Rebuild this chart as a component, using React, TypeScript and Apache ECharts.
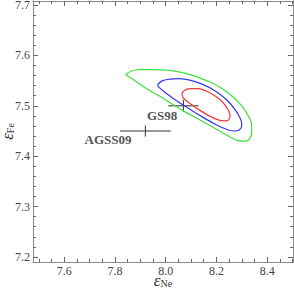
import React, { useEffect, useRef } from "react";
import * as echarts from "echarts";

// Axis ranges and ticks
const xRange = [7.477, 8.502];
const yRange = [7.19, 7.708];
const xMajorTicks = [7.6, 7.8, 8.0, 8.2, 8.4];
const xMinorTicks = [7.5, 7.55, 7.65, 7.7, 7.75, 7.85, 7.9, 7.95, 8.05, 8.1, 8.15, 8.25, 8.3, 8.35, 8.45, 8.5];
const yMajorTicks = [7.2, 7.3, 7.4, 7.5, 7.6, 7.7];
const yMinorTicks = [
  7.22, 7.24, 7.26, 7.28, 7.32, 7.34, 7.36, 7.38, 7.42, 7.44, 7.46, 7.48,
  7.52, 7.54, 7.56, 7.58, 7.62, 7.64, 7.66, 7.68,
];

// Contours
const greenContour = [
  [7.842, 7.562], [7.866, 7.569], [7.898, 7.572], [7.951, 7.572], [8.004, 7.571],
  [8.056, 7.567], [8.109, 7.56], [8.161, 7.55], [8.214, 7.537], [8.26, 7.52],
  [8.3, 7.5], [8.326, 7.48], [8.339, 7.462], [8.339, 7.446], [8.33, 7.434],
  [8.313, 7.43], [8.286, 7.431], [8.24, 7.442], [8.188, 7.457], [8.135, 7.472],
  [8.083, 7.486], [8.03, 7.502], [7.977, 7.519], [7.925, 7.534], [7.872, 7.552],
  [7.842, 7.562],
];
const blueContour = [
  [7.968, 7.541], [7.984, 7.549], [8.017, 7.553], [8.056, 7.554], [8.102, 7.55],
  [8.148, 7.542], [8.194, 7.53], [8.238, 7.513], [8.273, 7.493], [8.296, 7.473],
  [8.3, 7.46], [8.29, 7.452], [8.273, 7.45], [8.247, 7.452], [8.201, 7.462],
  [8.148, 7.477], [8.096, 7.493], [8.043, 7.51], [7.997, 7.527], [7.975, 7.536],
  [7.968, 7.541],
];
const redContour = [
  [8.064, 7.523], [8.072, 7.53], [8.096, 7.534], [8.129, 7.534], [8.161, 7.529],
  [8.194, 7.52], [8.225, 7.507], [8.247, 7.491], [8.254, 7.48], [8.248, 7.472],
  [8.234, 7.47], [8.207, 7.472], [8.168, 7.481], [8.129, 7.493], [8.089, 7.507],
  [8.069, 7.516], [8.064, 7.523],
];

// Reference points: [x, y, xErr, yErr]
const refNames = ["GS98", "AGSS09"];
const refPoints = [
  [8.07, 7.5, 0.06, 0.012],
  [7.92, 7.45, 0.1, 0.011],
];
const refLabelPos = [
  [7.986, 7.481],
  [7.773, 7.434],
];

const serif = "Liberation Serif";
const tickColor = "#444";
const frameColor = "#8a8a8a";

export default function App() {
  const ref = useRef<HTMLDivElement>(null);
  useEffect(() => {
    document.body.style.margin = "0";
    const chart = echarts.init(ref.current!, null, { renderer: "svg" });
    const gridBox = { left: 33, right: 1, top: 1, bottom: 30, containLabel: false, outerBoundsMode: "none" };
    const baseX = (grid: number, pos: string, show: boolean, ticks: number[], len: number) => ({
      type: "value",
      gridIndex: grid,
      position: pos,
      min: xRange[0],
      max: xRange[1],
      axisLine: { show: true, lineStyle: { color: frameColor, width: 1 } },
      axisTick: { show: true, inside: true, length: len, customValues: ticks, lineStyle: { color: "#666" } },
      axisLabel: show
        ? { show: true, customValues: xMajorTicks, formatter: (v: number) => v.toFixed(1), color: tickColor, fontFamily: serif, fontSize: 12, margin: 3 }
        : { show: false },
      splitLine: { show: false },
    });
    const baseY = (grid: number, pos: string, show: boolean, ticks: number[], len: number) => ({
      type: "value",
      gridIndex: grid,
      position: pos,
      min: yRange[0],
      max: yRange[1],
      axisLine: { show: true, lineStyle: { color: frameColor, width: 1 } },
      axisTick: { show: true, inside: true, length: len, customValues: ticks, lineStyle: { color: "#666" } },
      axisLabel: show
        ? { show: true, customValues: yMajorTicks, formatter: (v: number) => v.toFixed(1), color: tickColor, fontFamily: serif, fontSize: 12, margin: 3 }
        : { show: false },
      splitLine: { show: false },
    });
    const nameRich = {
      e: { fontFamily: serif, fontStyle: "italic", fontSize: 17, color: "#333", lineHeight: 16, verticalAlign: "top" },
      s: { fontFamily: serif, fontSize: 10, color: "#333", lineHeight: 10, padding: [10, 0, 0, 0], verticalAlign: "bottom" },
    };
    const x0: any = baseX(0, "bottom", true, xMajorTicks, 5);
    x0.name = "{e|ε}{s|Ne}";
    x0.nameLocation = "middle";
    x0.nameGap = 10;
    x0.nameMoveOverlap = false;
    x0.nameTextStyle = { rich: nameRich };
    const y0: any = baseY(0, "left", true, yMajorTicks, 5);
    y0.name = "{e|ε}{s|Fe}";
    y0.nameLocation = "middle";
    y0.nameGap = 18;
    y0.nameRotate = 90;
    y0.nameMoveOverlap = false;
    y0.nameTextStyle = { rich: nameRich };
    const contourSeries = (data: number[][], color: string) => ({
      type: "line",
      data,
      smooth: 0.4,
      symbol: "none",
      xAxisIndex: 0,
      yAxisIndex: 0,
      lineStyle: { color, width: 1.2 },
      silent: true,
    });
    chart.setOption({
      animation: false,
      grid: [gridBox, gridBox],
      xAxis: [
        x0,
        baseX(0, "top", false, xMajorTicks, 5),
        baseX(1, "bottom", false, xMinorTicks, 3),
        baseX(1, "top", false, xMinorTicks, 3),
      ],
      yAxis: [
        y0,
        baseY(0, "right", false, yMajorTicks, 5),
        baseY(1, "left", false, yMinorTicks, 3),
        baseY(1, "right", false, yMinorTicks, 3),
      ],
      series: [
        contourSeries(greenContour, "#3fe03f"),
        contourSeries(blueContour, "#3636f0"),
        contourSeries(redContour, "#f03a3a"),
        {
          type: "custom",
          xAxisIndex: 0,
          yAxisIndex: 0,
          data: refPoints,
          renderItem: (params: any, api: any) => {
            const x = api.value(0), y = api.value(1), ex = api.value(2), ey = api.value(3);
            const l = api.coord([x - ex, y]);
            const r = api.coord([x + ex, y]);
            const t = api.coord([x, y + ey]);
            const b = api.coord([x, y - ey]);
            const style = { stroke: "#333", lineWidth: 1 };
            return {
              type: "group",
              children: [
                { type: "line", shape: { x1: l[0], y1: l[1], x2: r[0], y2: r[1] }, style },
                { type: "line", shape: { x1: t[0], y1: t[1], x2: b[0], y2: b[1] }, style },
              ],
            };
          },
        },
        {
          type: "scatter",
          xAxisIndex: 0,
          yAxisIndex: 0,
          symbolSize: 0,
          data: refLabelPos.map((p, i) => ({ value: p, name: refNames[i] })),
          label: {
            show: true,
            position: "inside",
            formatter: (p: any) => p.name,
            fontFamily: serif,
            fontWeight: "bold",
            fontSize: 13,
            color: "#222",
          },
        },
      ],
    });
    return () => chart.dispose();
  }, []);
  return <div ref={ref} style={{ width: 294, height: 292 }} />;
}
